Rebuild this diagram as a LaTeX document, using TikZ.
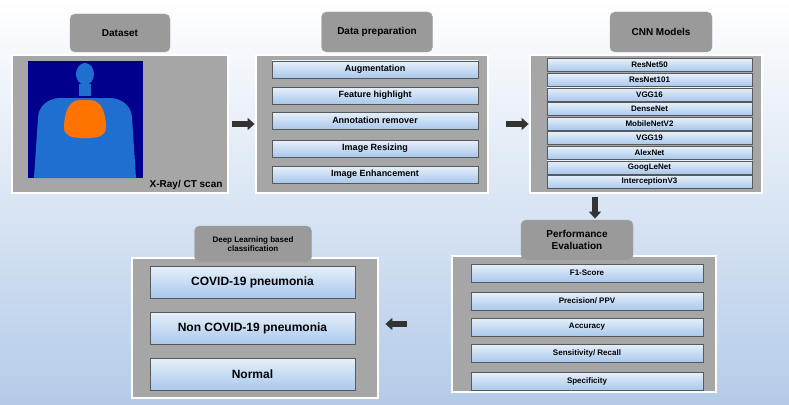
\documentclass[tikz,border=0pt]{standalone}
\usepackage{fontspec}
\setmainfont{Liberation Sans}
\usetikzlibrary{arrows.meta}
\definecolor{panelgray}{HTML}{A6A6A6}
\definecolor{labelgray}{HTML}{9A9A9A}
\definecolor{bartop}{HTML}{E6F0FA}
\definecolor{barbot}{HTML}{A9C8EC}
\definecolor{bgblue}{HTML}{B4CBE8}
\definecolor{bodyblue}{HTML}{1F6FD0}
\tikzset{
  panel/.style={fill=panelgray, draw=white, line width=1.2pt},
  label/.style={fill=labelgray, draw=gray!70, rounded corners=5pt, font=\bfseries, align=center},
  bar/.style={top color=bartop, bottom color=barbot, draw=gray!70!black, line width=0.6pt, font=\bfseries\small},
  smallbar/.style={bar, font=\bfseries\footnotesize},
  bigbar/.style={bar, font=\bfseries\large},
  flow/.style={-{Triangle[length=7pt,width=12pt]}, line width=6pt, draw=gray!40!black},
}
\newcommand{\boxat}[6]{\node[#1, minimum width=#4-#2, minimum height=#5-#3, inner sep=0pt] (#6) at ({(#2+#4)/2},{(#3+#5)/2}) {};}
\begin{document}
\begin{tikzpicture}[x=1pt, y=-1pt]
	\shade[top color=white, bottom color=bgblue] (0,0) rectangle (789,404);
	\useasboundingbox (0,0) rectangle (789,404);

	% dataset
	\boxat{panel}{12}{55}{228}{193}{dsp}
	\fill[blue!55!black] (28,61) rectangle (143,178);
	\fill[bodyblue] (85,74) ellipse (9pt and 11pt);
	\fill[bodyblue] (79,84) rectangle (91,96);
	\fill[bodyblue] (34,178) -- (38,118) to[out=90,in=180] (60,98) -- (110,98) to[out=0,in=90] (132,118) -- (136,178) -- cycle;
	\fill[orange!90!red] (80,100) to[out=180,in=90] (64,128) to[out=270,in=180] (80,138) -- (90,138) to[out=0,in=270] (106,128) to[out=90,in=0] (90,100) -- cycle;
	\node[font=\bfseries, anchor=south east] (dst) at (226,193) {X-Ray/ CT scan};
	\node[label, minimum width=100, minimum height=38] (dsl) at (120,33) {Dataset};

	% data preparation
	\boxat{panel}{256}{55}{488}{193}{dpp}
	\node[label, minimum width=111, minimum height=40] (dpl) at (377,32) {Data preparation};
	\foreach \t/\ya/\yb [count=\i] in {Augmentation/61/78, Feature highlight/87/104, Annotation remover/112/129, Image Resizing/140/157, Image Enhancement/166/183}
		\node[bar, minimum width=206, minimum height=\yb-\ya, inner sep=0pt] (dp\i) at (375,{(\ya+\yb)/2}) {\t};

	% cnn models
	\boxat{panel}{530}{55}{762}{193}{cnp}
	\node[label, minimum width=102, minimum height=40] (cnl) at (661,32) {CNN Models};
	\foreach \t [count=\i] in {ResNet50, ResNet101, VGG16, DenseNet, MobileNetV2, VGG19, AlexNet, GoogLeNet, InterceptionV3}
		\node[smallbar, minimum width=205, minimum height=13, inner sep=0pt] (cn\i) at (649.5,{50.5+14.6*\i}) {\t};

	% performance evaluation
	\boxat{panel}{452}{256}{716}{392}{pep}
	\node[label, minimum width=112, minimum height=40] (pel) at (577,240) {Performance\\Evaluation};
	\foreach \t/\ya/\yb [count=\i] in {F1-Score/264/282, {Precision/ PPV}/292/310, Accuracy/318/336, {Sensitivity/ Recall}/344/362, Specificity/372/390}
		\node[smallbar, minimum width=232, minimum height=\yb-\ya, inner sep=0pt] (pe\i) at (587,{(\ya+\yb)/2}) {\t};

	% classification
	\boxat{panel}{132}{258}{378}{398}{clp}
	\node[label, font=\bfseries\footnotesize, minimum width=117, minimum height=36] (cll) at (253,244) {Deep Learning based\\classification};
	\foreach \t/\ya/\yb [count=\i] in {COVID-19  pneumonia/266/298, Non COVID-19  pneumonia/312/344, Normal/358/390}
		\node[bigbar, minimum width=205, minimum height=\yb-\ya, inner sep=0pt] (cl\i) at (252.5,{(\ya+\yb)/2}) {\t};

	% flow arrows
	\draw[flow] (dsp.east) ++(3,0) -- ++(23,0);
	\draw[flow] (dpp.east) ++(17,0) -- ++(23,0);
	\draw[flow] (cnp.south) ++(-51,3) -- ++(0,22);
	\draw[flow] (pep.west) ++(-44,0) -- ++(-22,0);
\end{tikzpicture}
\end{document}
